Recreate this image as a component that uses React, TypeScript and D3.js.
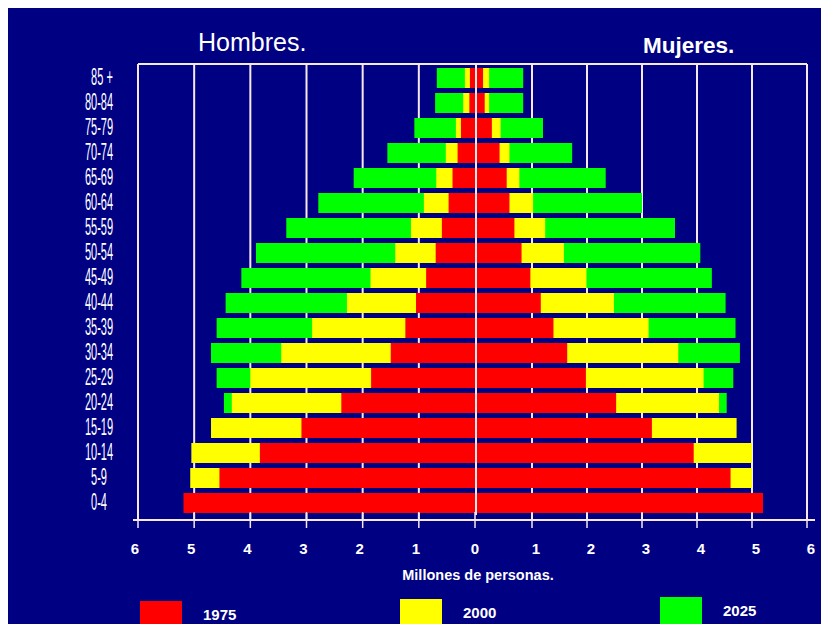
import React from "react";
import * as d3 from "d3";

const ages = ["85 +","80-84","75-79","70-74","65-69","60-64","55-59","50-54","45-49","40-44","35-39","30-34","25-29","20-24","15-19","10-14","5-9","0-4"];
const male1975 = [0.09,0.10,0.25,0.31,0.40,0.47,0.59,0.70,0.87,1.05,1.24,1.50,1.85,2.38,3.09,3.83,4.55,5.19];
const male2000 = [0.18,0.21,0.34,0.52,0.69,0.91,1.14,1.42,1.86,2.28,2.90,3.45,4.00,4.33,4.70,5.05,5.07,4.95];
const male2025 = [0.68,0.71,1.08,1.56,2.16,2.79,3.36,3.90,4.16,4.44,4.60,4.70,4.60,4.47,4.30,4.10,4.00,3.90];
const female1975 = [0.11,0.14,0.27,0.41,0.54,0.59,0.68,0.81,0.97,1.16,1.39,1.64,1.98,2.53,3.18,3.94,4.61,5.20];
const female2000 = [0.22,0.22,0.43,0.59,0.77,1.02,1.24,1.58,1.99,2.49,3.12,3.66,4.12,4.40,4.72,5.00,5.00,4.90];
const female2025 = [0.84,0.84,1.20,1.73,2.34,3.00,3.60,4.06,4.27,4.52,4.70,4.78,4.66,4.54,4.40,4.20,4.10,4.00];
const ticks = [0,1,2,3,4,5,6];
const years = ["1975","2000","2025"];
const colors = ["#ff0000","#ffff00","#00ff00"];

export default function App() {
  const W = 813, H = 616;
  const xL = d3.scaleLinear().domain([0, 6]).range([475, 138]);
  const xR = d3.scaleLinear().domain([0, 6]).range([477, 807]);
  const y = d3.scaleBand<string>().domain(ages).range([65.5, 515.5]).paddingInner(0.2).paddingOuter(0.1);
  const line = "#f6e8ee";
  const top = 64, axisY = 520;
  const series = [
    { m: male2025, f: female2025, c: colors[2] },
    { m: male2000, f: female2000, c: colors[1] },
    { m: male1975, f: female1975, c: colors[0] },
  ];
  const legendX = [140, 400, 660];
  const legendY = [601, 599, 597];
  return (
    <svg width={W} height={H} style={{ display: "block", position: "fixed", left: 8, top: 8 }}>
      <g transform="translate(-8,-8)">
        <rect x={8} y={8} width={W} height={H} fill="#000082" />
        {/* frame & grid */}
        <line x1={xL(6)} x2={xR(6)} y1={top} y2={top} stroke={line} strokeWidth={2} />
        {ticks.filter(t => t > 0).map(t => (
          <g key={"g" + t}>
            <line x1={xL(t)} x2={xL(t)} y1={top} y2={axisY} stroke={line} strokeWidth={2} />
            <line x1={xR(t)} x2={xR(t)} y1={top} y2={axisY} stroke={line} strokeWidth={2} />
          </g>
        ))}
        {/* bars */}
        {series.map((s, si) => (
          <g key={"s" + si} fill={s.c}>
            {ages.map((a, i) => (
              <g key={a}>
                <rect x={xL(s.m[i])} y={y(a)} width={xL(0) - xL(s.m[i])} height={y.bandwidth()} />
                <rect x={xR(0)} y={y(a)} width={xR(s.f[i]) - xR(0)} height={y.bandwidth()} />
              </g>
            ))}
          </g>
        ))}
        {/* center line */}
        <line x1={476} x2={476} y1={top} y2={515} stroke={line} strokeWidth={2} />
        {/* axis */}
        <line x1={133} x2={815} y1={axisY} y2={axisY} stroke={line} strokeWidth={2} />
        {ticks.map(t => (
          <g key={"t" + t}>
            <line x1={xL(t)} x2={xL(t)} y1={512} y2={528} stroke={line} strokeWidth={1.5} />
            {t > 0 && <line x1={xR(t)} x2={xR(t)} y1={512} y2={528} stroke={line} strokeWidth={1.5} />}
          </g>
        ))}
        <g fill="#ffffff" fontFamily="Liberation Sans, Arial, sans-serif" fontWeight="bold" fontSize={15} textAnchor="middle">
          {ticks.map(t => (
            <text key={"l" + t} x={t === 0 ? 475 : xL(t) - 3} y={554}>{t}</text>
          ))}
          {ticks.filter(t => t > 0).map(t => (
            <text key={"r" + t} x={xR(t) + 4} y={554}>{t}</text>
          ))}
          <text x={478} y={580} fontSize={14.5}>Millones de personas.</text>
        </g>
        {/* age labels */}
        <g fill="#ffffff" fontFamily="Liberation Sans, Arial, sans-serif" fontSize={23}>
          {ages.map((a, i) => (
            <text key={a} transform={`translate(${i === 0 ? 102 : 99},${(y(a) as number) + y.bandwidth() / 2 + 6.5}) scale(0.48,1)`} textAnchor="middle">{a}</text>
          ))}
        </g>
        {/* titles */}
        <text x={198} y={51} fill="#ffffff" fontFamily="Liberation Sans, Arial, sans-serif" fontSize={25}>Hombres.</text>
        <text x={643} y={53} fill="#ffffff" fontFamily="Liberation Sans, Arial, sans-serif" fontWeight="bold" fontSize={22.5}>Mujeres.</text>
        {/* legend */}
        {years.map((yr, i) => (
          <g key={yr}>
            <rect x={legendX[i]} y={legendY[i]} width={42} height={40} fill={colors[i]} />
            <text x={legendX[i] + 63} y={legendY[i] + 19} fill="#ffffff" fontFamily="Liberation Sans, Arial, sans-serif" fontWeight="bold" fontSize={15}>{yr}</text>
          </g>
        ))}
      </g>
    </svg>
  );
}
